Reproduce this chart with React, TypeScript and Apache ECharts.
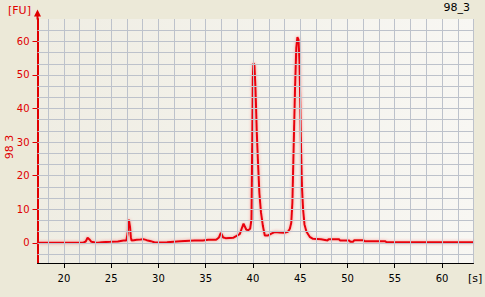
import React, { useEffect, useRef } from "react";
import * as echarts from "echarts";

// Migration time [s]
const times = [
  17.2, 22.0, 22.3, 22.5, 22.7, 22.9, 23.3, 23.6, 24.0, 24.9, 25.7, 26.3, 26.6,
  26.73, 26.87, 27.0, 27.08, 27.15, 27.4, 27.7, 28.1, 28.4, 28.75, 29.2, 29.6,
  30.9, 32.3, 33.8, 34.7, 35.25, 36.1, 36.4, 36.6, 36.85, 37.1, 37.9, 38.4,
  38.6, 38.8, 39.0, 39.15, 39.3, 39.5, 39.7, 39.84, 39.92, 39.98, 40.05, 40.15,
  40.25, 40.33, 40.4, 40.53, 40.68, 40.85, 41.05, 41.25, 41.6, 42.0, 42.3,
  42.8, 43.3, 43.7, 43.9, 44.05, 44.17, 44.3, 44.45, 44.58, 44.7, 44.82, 44.92,
  45.0, 45.08, 45.18, 45.3, 45.45, 45.65, 46.0, 46.35, 47.2, 47.9, 48.0, 49.1,
  49.2, 50.2, 50.3, 50.6, 50.7, 51.7, 51.8, 54.0, 54.1, 54.4, 54.6, 63.333,
];

// Fluorescence [FU]
const fu = [
  0.0, 0.0, 0.4, 1.5, 1.0, 0.3, 0.1, 0.0, 0.2, 0.3, 0.4, 0.7, 0.7, 2.7, 6.9,
  4.5, 1.7, 0.7, 0.8, 0.9, 1.0, 1.1, 0.8, 0.5, 0.1, 0.2, 0.5, 0.7, 0.7, 0.9,
  0.9, 1.6, 3.0, 1.6, 1.4, 1.5, 2.3, 2.6, 4.2, 5.7, 4.8, 3.9, 3.8, 4.2, 7.0,
  30.0, 49.0, 53.5, 53.0, 47.0, 40.0, 33.0, 24.0, 14.7, 9.0, 5.0, 2.2, 2.2,
  2.8, 3.2, 3.1, 3.0, 3.3, 4.2, 6.0, 12.0, 28.0, 46.0, 58.0, 61.3, 60.5, 54.0,
  42.0, 29.0, 17.0, 10.0, 5.5, 3.4, 1.8, 1.2, 1.1, 0.7, 1.1, 1.1, 0.7, 0.7,
  0.3, 0.3, 0.8, 0.8, 0.5, 0.5, 0.2, 0.2, 0.2, 0.2,
];

const xTickValues = [20, 25, 30, 35, 40, 45, 50, 55, 60];
const yTickValues = [0, 10, 20, 30, 40, 50, 60];

const X_MIN = 17.2;
const X_MAX = 63.333;
const Y_MIN = -6;
const Y_MAX = 66.667;

const xGridStep = 5 / 3;
const yGridStep = 10 / 3;

export default function App() {
  const ref = useRef<HTMLDivElement>(null);

  useEffect(() => {
    if (!ref.current) return;
    const chart = echarts.init(ref.current, null, { renderer: "svg" });

    const xGrid: number[] = [];
    for (let i = Math.ceil(X_MIN / xGridStep); i * xGridStep <= X_MAX + 0.01; i++) {
      xGrid.push(i * xGridStep);
    }
    const yGrid: number[] = [];
    for (let i = Math.ceil(Y_MIN / yGridStep); i * yGridStep <= Y_MAX + 0.01; i++) {
      yGrid.push(i * yGridStep);
    }

    const red = "#e00000";
    const font = "DejaVu Sans";

    chart.setOption({
      animation: false,
      backgroundColor: "#ece9d8",
      grid: {
        left: 37.5,
        right: 11.5,
        top: 19,
        bottom: 34,
        show: true,
        borderWidth: 0,
        backgroundColor: new echarts.graphic.LinearGradient(0, 0, 1, 0, [
          { offset: 0, color: "#efede3" },
          { offset: 1, color: "#f8f7f3" },
        ]),
      },
      xAxis: {
        type: "value",
        min: X_MIN,
        max: X_MAX,
        axisLine: { show: true, onZero: false, lineStyle: { color: "#000000", width: 1 } },
        axisTick: {
          show: true,
          length: 5,
          customValues: xTickValues,
          lineStyle: { color: "#000000" },
        },
        axisLabel: {
          customValues: xTickValues,
          color: "#000000",
          fontFamily: font,
          fontSize: 10,
          margin: 10,
        },
        splitLine: { show: false },
      },
      yAxis: {
        type: "value",
        min: Y_MIN,
        max: Y_MAX,
        axisLine: { show: true, onZero: false, lineStyle: { color: red, width: 2 } },
        axisTick: {
          show: true,
          length: 5,
          customValues: yTickValues,
          lineStyle: { color: red },
        },
        axisLabel: {
          customValues: yTickValues,
          color: red,
          fontFamily: font,
          fontSize: 10,
          margin: 8,
        },
        splitLine: { show: false },
      },
      series: [
        {
          type: "line",
          data: [],
          z: 1,
          silent: true,
          markLine: {
            silent: true,
            animation: false,
            symbol: ["none", "none"],
            label: { show: false },
            emphasis: { disabled: true },
            lineStyle: { type: "solid", color: "#bdc2cb", width: 1 },
            data: [
              ...xGrid.map((v) => ({ xAxis: v })),
              ...yGrid.map((v) => ({ yAxis: v })),
            ],
          },
        },
        {
          type: "line",
          z: 3,
          data: times.map((t, i) => [t, fu[i]]),
          showSymbol: false,
          symbol: "none",
          silent: true,
          lineStyle: {
            color: "#e8000b",
            width: 2,
            shadowColor: "rgba(255,60,60,0.55)",
            shadowBlur: 3,
          },
        },
      ],
      graphic: [
        {
          type: "line",
          shape: { x1: 37.5, y1: 15, x2: 37.5, y2: 19.5 },
          style: { stroke: red, lineWidth: 2 },
        },
        {
          type: "polygon",
          shape: { points: [[37.5, 9.5], [34, 16.5], [41, 16.5]] },
          style: { fill: red },
        },
        {
          type: "text",
          x: 8,
          y: 10,
          style: {
            text: "[FU]",
            fill: red,
            font: `11px "${font}"`,
            verticalAlign: "middle",
            align: "left",
          },
        },
        {
          type: "text",
          x: 9,
          y: 147,
          rotation: Math.PI / 2,
          style: {
            text: "98 3",
            fill: red,
            font: `11px "${font}"`,
            verticalAlign: "middle",
            align: "center",
          },
        },
        {
          type: "text",
          x: 470,
          y: 7.5,
          style: {
            text: "98_3",
            fill: "#000000",
            font: `11px "${font}"`,
            verticalAlign: "middle",
            align: "right",
          },
        },
        {
          type: "text",
          x: 468,
          y: 278,
          style: {
            text: "[s]",
            fill: "#000000",
            font: `11px "${font}"`,
            verticalAlign: "middle",
            align: "left",
          },
        },
      ],
    });

    return () => chart.dispose();
  }, []);

  return (
    <div
      ref={ref}
      style={{ position: "absolute", left: 0, top: 0, width: 485, height: 297 }}
    />
  );
}
